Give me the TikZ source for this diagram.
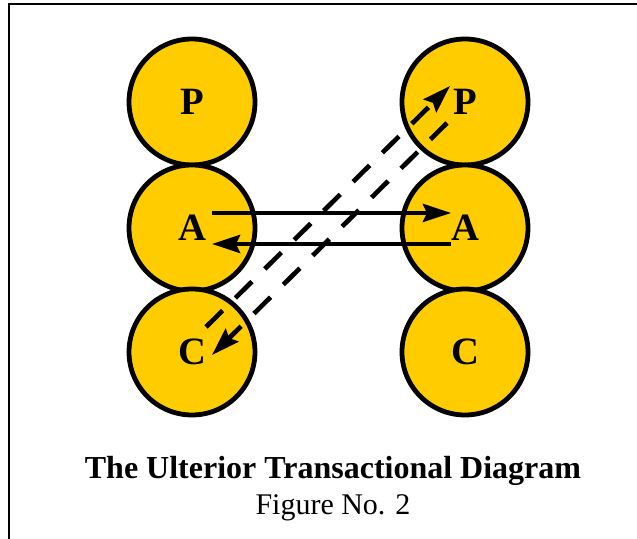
\documentclass[tikz,border=0pt]{standalone}
\usepackage{fontspec}
\setmainfont{Liberation Serif}
\usetikzlibrary{arrows.meta}

\definecolor{egogold}{RGB}{255,204,0}

\begin{document}
\begin{tikzpicture}[
  x=0.75pt, y=0.75pt,
  >={Stealth[length=21pt, width=13.5pt, inset=3pt]},
  ego/.style={draw, circle, line width=3.6pt, fill=egogold, minimum size=94.5pt,
              inner sep=0pt, font=\fontsize{29}{32}\selectfont\bfseries},
  msg/.style={->, line width=3.3pt},
  hidden/.style={->, line width=3.5pt, dash pattern=on 17.5pt off 13.5pt},
]
\clip (0,0) rectangle (637,539);
\draw[line width=2.2pt] (9,-10) -- (9,535) -- (650,535);
% left person
\node[ego] (lP) at (192,437) {P};
\node[ego] (lA) at (192,311) {A};
\node[ego] (lC) at (192,187) {C};
% right person
\node[ego] (rP) at (465,437) {P};
\node[ego] (rA) at (465,311) {A};
\node[ego] (rC) at (465,187) {C};
% social level
\draw[msg] ([shift={(20,15)}]lA.center) -- ([shift={(-14,15)}]rA.center);
\draw[msg] ([shift={(-14,-16)}]rA.center) -- ([shift={(20,-16)}]lA.center);
% psychological level
\draw[hidden] ([shift={(14,25)}]lC.center) -- ([shift={(-15,16)}]rP.center);
\draw[hidden] ([shift={(-18,-21)}]rP.center) -- ([shift={(20,-3)}]lC.center);
% caption
\node[font=\fontsize{24}{27}\selectfont\bfseries] (title) at (333,68) {The Ulterior Transactional Diagram};
\node[font=\fontsize{22.5}{25}\selectfont] (fig) at (333,31) {Figure No. 2};
\end{tikzpicture}
\end{document}
